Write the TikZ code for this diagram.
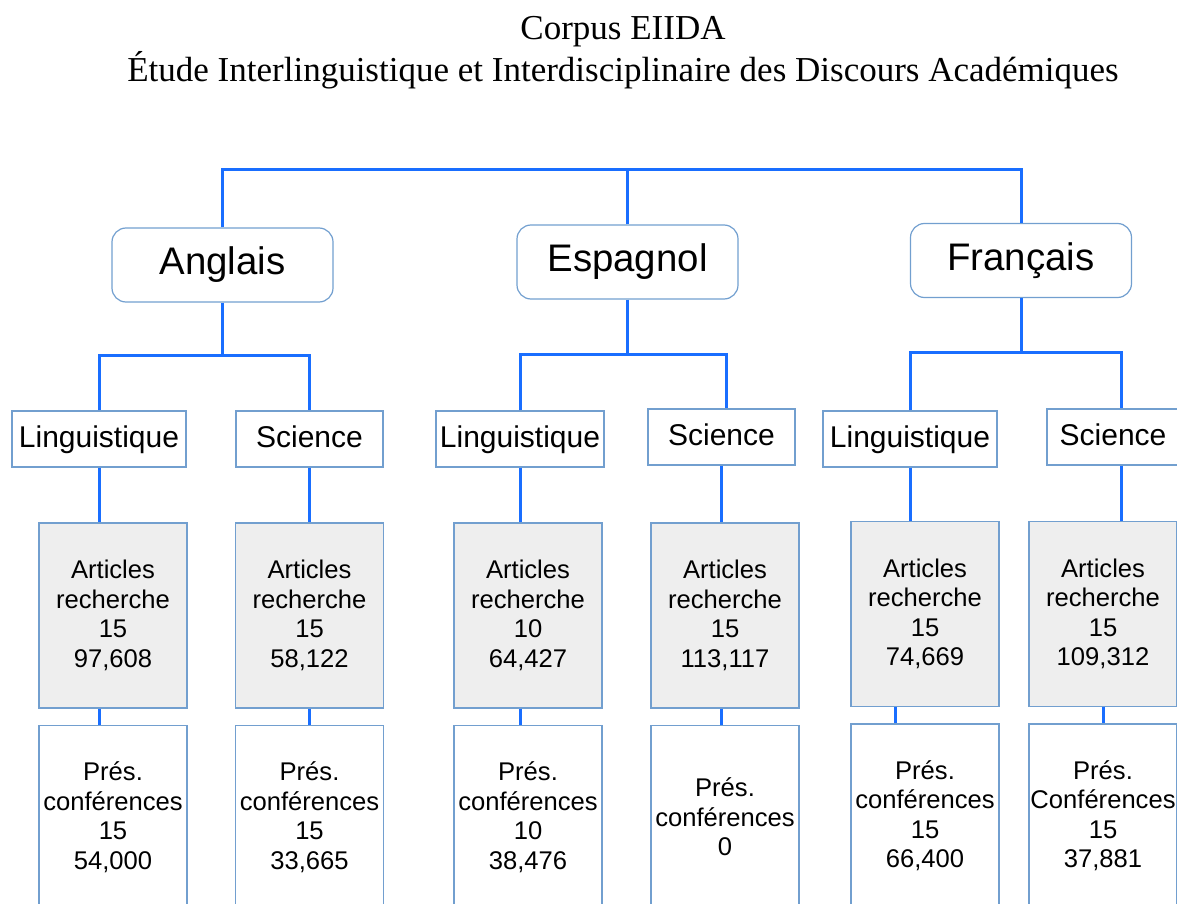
\documentclass[tikz,border=0pt]{standalone}
\usepackage{fontspec}
\setmainfont{Liberation Sans}
\newfontfamily\titlefont{Liberation Serif}
\definecolor{lineblue}{RGB}{25,110,255}
\definecolor{boxblue}{RGB}{114,159,207}
\definecolor{artgray}{RGB}{238,238,238}
\tikzset{
  lang/.style={draw=boxblue,line width=1.2pt,rounded corners=14pt,minimum width=221pt,minimum height=74pt,inner sep=0pt,font=\fontsize{38.4}{44}\selectfont},
  field/.style={draw=boxblue,line width=1.2pt,minimum height=56pt,inner sep=0pt,text height=22pt,text depth=6pt,font=\fontsize{30}{34}\selectfont},
  art/.style={draw=boxblue,line width=1.2pt,fill=artgray,minimum width=148pt,minimum height=185pt,inner sep=0pt,align=center,font=\fontsize{25.6}{29.5}\selectfont},
  pres/.style={art,fill=white,minimum height=183pt},
  link/.style={draw=lineblue,line width=3pt}
}
\begin{document}
\begin{tikzpicture}[x=1pt,y=-1pt]
  \useasboundingbox (0,0) rectangle (1177,904);
  \clip (0,0) rectangle (1177,904);
  \node[font=\titlefont\fontsize{35}{42}\selectfont,align=center,inner sep=0pt] (title) at (623,53) {Corpus EIIDA\\\'Etude Interlinguistique et Interdisciplinaire des Discours Acad\'emiques};
  % Các ngôn ngữ
  \node[lang] (ang) at (222.5,265) {Anglais};
  \node[lang] (esp) at (627.5,262) {Espagnol};
  \node[lang] (fra) at (1021,260.5) {Français};
  % Các lĩnh vực
  \node[field,minimum width=174pt] (angL) at (99,439) {Linguistique};
  \node[field,minimum width=147pt] (angS) at (309.5,439) {Science};
  \node[field,minimum width=168pt] (espL) at (520,439) {Linguistique};
  \node[field,minimum width=147pt] (espS) at (721.5,437) {Science};
  \node[field,minimum width=174pt] (fraL) at (910,439) {Linguistique};
  \node[field,minimum width=132pt] (fraS) at (1113,437) {Science};
  % Articles recherche
  \node[art] (angLA) at (113,615.5) {Articles\\recherche\\15\\97,608};
  \node[art] (angSA) at (309.5,615.5) {Articles\\recherche\\15\\58,122};
  \node[art] (espLA) at (528,615.5) {Articles\\recherche\\10\\64,427};
  \node[art] (espSA) at (725,615.5) {Articles\\recherche\\15\\113,117};
  \node[art] (fraLA) at (925,614) {Articles\\recherche\\15\\74,669};
  \node[art] (fraSA) at (1103,614) {Articles\\recherche\\15\\109,312};
  % Présentations
  \node[pres] (angLP) at (113,817) {Prés.\\conférences\\15\\54,000};
  \node[pres] (angSP) at (309.5,817) {Prés.\\conférences\\15\\33,665};
  \node[pres] (espLP) at (528,817) {Prés.\\conférences\\10\\38,476};
  \node[pres] (espSP) at (725,817) {Prés.\\conférences\\0};
  \node[pres] (fraLP) at (925,815.5) {Prés.\\conférences\\15\\66,400};
  \node[pres] (fraSP) at (1103,815.5) {Prés.\\Conférences\\15\\37,881};
  % Vẽ thanh nối trên cùng
  \coordinate (top) at (628,170);
  \draw[link] (ang.north) |- (top) -| (fra.north) (esp.north) -- (esp.north|-top);
  % Vẽ các nhánh
  \coordinate (angB) at (222.5,355);
  \coordinate (espB) at (627.5,354);
  \coordinate (fraB) at (1021,352);
  \draw[link] (ang.south) -- (angB) (angL.north) |- (angB) -| (angS.north);
  \draw[link] (esp.south) -- (espB) (espL.north) |- (espB) -| ([xshift=5pt]espS.north);
  \draw[link] (fra.south) -- (fraB) (fraL.north) |- (fraB) -| ([xshift=8pt]fraS.north);
  \foreach \f in {angL,angS,espL,espS}{
    \draw[link] (\f.south) -- (\f.south|-\f A.north);
    \draw[link] (\f A.south-|\f) -- (\f P.north-|\f);
  }
  \draw[link] (fraL.south) -- (fraL.south|-fraLA.north) ([xshift=-30pt]fraLA.south) -- ([xshift=-30pt]fraLP.north);
  \draw[link] ([xshift=8pt]fraS.south) -- ([xshift=8pt]fraS.south|-fraSA.north) (fraSA.south) -- (fraSP.north);
\end{tikzpicture}
\end{document}
